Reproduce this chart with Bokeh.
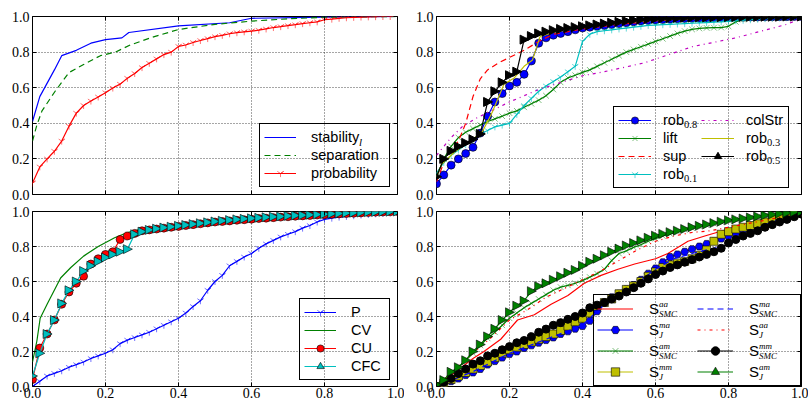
import numpy as np
from bokeh.plotting import figure
from bokeh.layouts import column, row
from bokeh.models import (Range1d, LinearAxis, FixedTicker, PrintfTickFormatter,
                          CustomJSTickFormatter, Legend, LegendItem)
from bokeh.embed import file_html
from bokeh.resources import INLINE

# ---------------- data ----------------
TICKS = [0.0, 0.2, 0.4, 0.6, 0.8, 1.0]
X = [0.00, 0.02, 0.04, 0.06, 0.08, 0.10, 0.12, 0.14, 0.16, 0.18,
     0.20, 0.22, 0.24, 0.26, 0.28, 0.30, 0.32, 0.34, 0.36, 0.38,
     0.40, 0.42, 0.44, 0.46, 0.48, 0.50, 0.52, 0.54, 0.56, 0.58,
     0.60, 0.62, 0.64, 0.66, 0.68, 0.70, 0.72, 0.74, 0.76, 0.78,
     0.80, 0.82, 0.84, 0.86, 0.88, 0.90, 0.92, 0.94, 0.96, 0.98, 1.00]

# panel 1
stab_x = [0, 0.02, 0.06, 0.08, 0.12, 0.16, 0.20, 0.245, 0.264, 0.40, 0.54, 0.60, 0.80, 1.0]
stab_y = [0.41, 0.55, 0.70, 0.78, 0.81, 0.85, 0.87, 0.88, 0.91, 0.947, 0.965, 0.99, 0.996, 1.0]
sep_x = [0, 0.012, 0.026, 0.062, 0.10, 0.14, 0.186, 0.227, 0.268, 0.323, 0.40, 0.50, 0.60, 0.70, 0.80, 1.0]
sep_y = [0.30, 0.39, 0.47, 0.58, 0.685, 0.73, 0.78, 0.80, 0.84, 0.88, 0.927, 0.956, 0.974, 0.987, 0.996, 1.0]
prob_y = [0.064, 0.155, 0.20, 0.243, 0.30, 0.384, 0.457, 0.50, 0.525, 0.548,
          0.572, 0.598, 0.62, 0.653, 0.68, 0.713, 0.737, 0.762, 0.786, 0.80,
          0.832, 0.84, 0.854, 0.865, 0.876, 0.887, 0.894, 0.903, 0.909, 0.914,
          0.918, 0.923, 0.93, 0.938, 0.943, 0.949, 0.954, 0.96, 0.965, 0.97,
          0.982, 0.985, 0.99, 0.993, 0.995, 0.997, 0.998, 0.999, 1.0, 1.0, 1.0]

# panel 2
rob08_y = [0.06, 0.11, 0.165, 0.20, 0.23, 0.265, 0.345, 0.44, 0.52, 0.567,
           0.61, 0.63, 0.675, 0.75, 0.85, 0.88, 0.895, 0.905, 0.915, 0.925,
           0.935, 0.94, 0.945, 0.95, 0.955, 0.96, 0.965, 0.97, 0.975, 0.978,
           0.98, 0.983, 0.985, 0.987, 0.989, 0.99, 0.991, 0.992, 0.993, 0.994,
           0.995, 0.996, 0.996, 0.997, 0.997, 0.998, 0.998, 0.999, 0.999, 1.0, 1.0]
lift_y = [0.10, 0.20, 0.27, 0.32, 0.35, 0.37, 0.39, 0.41, 0.425, 0.44,
          0.457, 0.47, 0.49, 0.51, 0.53, 0.555, 0.59, 0.63, 0.655, 0.67,
          0.686, 0.70, 0.72, 0.74, 0.76, 0.78, 0.80, 0.815, 0.83, 0.845,
          0.86, 0.875, 0.89, 0.905, 0.918, 0.928, 0.933, 0.936, 0.937, 0.938,
          0.945, 0.97, 0.983, 0.99, 0.994, 0.996, 0.997, 0.998, 0.999, 1.0, 1.0]
sup_x = [0, 0.02, 0.04, 0.06, 0.08, 0.10, 0.12, 0.14, 0.17, 0.20, 0.24, 0.28, 0.32, 0.40, 0.50, 0.60, 0.74, 1.0]
sup_y = [0.07, 0.18, 0.25, 0.30, 0.40, 0.55, 0.65, 0.70, 0.74, 0.77, 0.81, 0.86, 0.90, 0.93, 0.955, 0.975, 0.993, 1.0]
rob01_y = [0.12, 0.18, 0.22, 0.25, 0.28, 0.31, 0.34, 0.36, 0.38, 0.39,
           0.40, 0.45, 0.50, 0.54, 0.58, 0.61, 0.635, 0.66, 0.69, 0.72,
           0.86, 0.90, 0.915, 0.92, 0.925, 0.93, 0.935, 0.94, 0.945, 0.95,
           0.952, 0.954, 0.956, 0.958, 0.96, 0.962, 0.964, 0.966, 0.968, 0.97,
           0.973, 0.976, 0.979, 0.982, 0.985, 0.988, 0.991, 0.994, 0.996, 0.998, 1.0]
col_x = [0, 0.04, 0.07, 0.11, 0.20, 0.28, 0.40, 0.46, 0.57, 0.70, 0.82, 0.96, 1.0]
col_y = [0.22, 0.32, 0.38, 0.43, 0.52, 0.59, 0.667, 0.69, 0.74, 0.83, 0.88, 0.956, 0.99]
rob03_x = [0, 0.014, 0.05, 0.10, 0.126, 0.153, 0.185, 0.213, 0.24, 0.263, 0.284, 0.32, 0.40, 0.50, 0.60, 0.80, 1.0]
rob03_y = [0.10, 0.17, 0.24, 0.31, 0.354, 0.463, 0.62, 0.655, 0.72, 0.756, 0.888, 0.91, 0.94, 0.962, 0.98, 0.995, 1.0]
rob05_y = [0.10, 0.20, 0.245, 0.27, 0.29, 0.31, 0.34, 0.52, 0.58, 0.63,
           0.67, 0.69, 0.87, 0.89, 0.905, 0.915, 0.923, 0.93, 0.935, 0.94,
           0.945, 0.95, 0.955, 0.96, 0.965, 0.97, 0.975, 0.98, 0.983, 0.986,
           0.988, 0.99, 0.991, 0.992, 0.993, 0.994, 0.995, 0.995, 0.996, 0.996,
           0.997, 0.997, 0.998, 0.998, 0.998, 0.999, 0.999, 0.999, 1.0, 1.0, 1.0]

# panel 3
P_y = [0.0, 0.03, 0.06, 0.075, 0.09, 0.11, 0.125, 0.14, 0.16, 0.175,
       0.19, 0.21, 0.245, 0.265, 0.28, 0.295, 0.31, 0.33, 0.35, 0.37,
       0.39, 0.42, 0.457, 0.49, 0.55, 0.60, 0.635, 0.69, 0.715, 0.74,
       0.76, 0.79, 0.815, 0.835, 0.855, 0.87, 0.885, 0.905, 0.92, 0.94,
       0.955, 0.962, 0.968, 0.972, 0.976, 0.98, 0.983, 0.987, 0.99, 0.993, 0.996]
cv_x = [0, 0.012, 0.021, 0.04, 0.077, 0.105, 0.14, 0.18, 0.225, 0.26, 0.31, 0.40, 0.60, 0.80, 1.0]
cv_y = [0.14, 0.26, 0.39, 0.47, 0.62, 0.68, 0.745, 0.80, 0.85, 0.88, 0.905, 0.926, 0.969, 0.987, 1.0]
CU_y = [0.04, 0.22, 0.30, 0.38, 0.47, 0.54, 0.59, 0.63, 0.70, 0.73,
        0.755, 0.77, 0.84, 0.86, 0.875, 0.89, 0.895, 0.90, 0.905, 0.91,
        0.915, 0.92, 0.925, 0.93, 0.935, 0.94, 0.943, 0.946, 0.95, 0.953,
        0.956, 0.96, 0.962, 0.965, 0.968, 0.97, 0.973, 0.975, 0.977, 0.98,
        0.982, 0.984, 0.986, 0.988, 0.99, 0.992, 0.994, 0.996, 0.997, 0.998, 1.0]
CFC_y = [0.06, 0.19, 0.30, 0.38, 0.475, 0.55, 0.60, 0.66, 0.69, 0.715,
         0.737, 0.755, 0.77, 0.785, 0.87, 0.885, 0.895, 0.902, 0.908, 0.913,
         0.918, 0.923, 0.928, 0.933, 0.938, 0.943, 0.947, 0.951, 0.955, 0.958,
         0.961, 0.964, 0.967, 0.97, 0.972, 0.975, 0.977, 0.979, 0.981, 0.983,
         0.985, 0.987, 0.989, 0.991, 0.993, 0.994, 0.996, 0.997, 0.998, 0.999, 1.0]

# panel 4
aaSMC_x = [0, 0.05, 0.10, 0.13, 0.176, 0.222, 0.268, 0.314, 0.36, 0.405, 0.451, 0.497, 0.543, 0.60, 0.634, 0.689, 0.735, 0.80, 0.881, 1.0]
aaSMC_y = [0, 0.08, 0.16, 0.20, 0.27, 0.38, 0.41, 0.47, 0.52, 0.59, 0.635, 0.67, 0.70, 0.73, 0.76, 0.83, 0.86, 0.90, 0.935, 0.98]
maJ_y = [0.0, 0.015, 0.03, 0.045, 0.065, 0.08, 0.10, 0.125, 0.145, 0.165,
         0.185, 0.20, 0.22, 0.235, 0.25, 0.265, 0.28, 0.30, 0.315, 0.33,
         0.345, 0.375, 0.43, 0.48, 0.51, 0.53, 0.555, 0.58, 0.61, 0.645,
         0.675, 0.71, 0.74, 0.755, 0.77, 0.785, 0.80, 0.815, 0.83, 0.845,
         0.86, 0.875, 0.89, 0.905, 0.92, 0.935, 0.95, 0.965, 0.975, 0.985, 0.995]
amSMC_y = [0.01, 0.04, 0.075, 0.11, 0.15, 0.19, 0.235, 0.275, 0.31, 0.35,
           0.39, 0.42, 0.45, 0.475, 0.50, 0.525, 0.55, 0.568, 0.578, 0.59,
           0.605, 0.625, 0.645, 0.67, 0.72, 0.76, 0.775, 0.795, 0.81, 0.83,
           0.845, 0.86, 0.872, 0.884, 0.895, 0.905, 0.914, 0.922, 0.93, 0.94,
           0.95, 0.955, 0.96, 0.965, 0.97, 0.975, 0.98, 0.985, 0.99, 0.995, 1.0]
mmJ_y = [0.0, 0.02, 0.04, 0.06, 0.08, 0.10, 0.12, 0.14, 0.165, 0.19,
         0.21, 0.225, 0.24, 0.255, 0.27, 0.285, 0.30, 0.32, 0.345, 0.37,
         0.39, 0.42, 0.46, 0.48, 0.50, 0.53, 0.555, 0.575, 0.60, 0.63,
         0.655, 0.68, 0.695, 0.705, 0.715, 0.73, 0.75, 0.78, 0.83, 0.87,
         0.885, 0.90, 0.91, 0.92, 0.93, 0.94, 0.955, 0.965, 0.975, 0.985, 0.995]
maSMC_x = [0, 0.10, 0.20, 0.30, 0.40, 0.45, 0.50, 0.55, 0.60, 0.65, 0.70, 0.75, 0.80, 0.85, 0.90, 0.95, 1.0]
maSMC_y = [0, 0.085, 0.19, 0.27, 0.35, 0.45, 0.525, 0.59, 0.67, 0.73, 0.76, 0.785, 0.81, 0.87, 0.925, 0.96, 0.99]
aaJ_x = [0, 0.10, 0.15, 0.20, 0.25, 0.30, 0.35, 0.40, 0.45, 0.50, 0.55, 0.60, 0.65, 0.70, 0.75, 0.80, 0.85, 0.90, 0.95, 1.0]
aaJ_y = [0, 0.19, 0.28, 0.38, 0.44, 0.51, 0.56, 0.61, 0.66, 0.72, 0.78, 0.83, 0.86, 0.88, 0.89, 0.91, 0.93, 0.95, 0.97, 0.985]
mmSMC_y = [0.0, 0.025, 0.046, 0.074, 0.10, 0.128, 0.147, 0.175, 0.19, 0.21,
           0.228, 0.25, 0.263, 0.285, 0.31, 0.328, 0.35, 0.365, 0.384, 0.40,
           0.42, 0.45, 0.465, 0.48, 0.50, 0.517, 0.54, 0.565, 0.59, 0.615,
           0.64, 0.66, 0.68, 0.695, 0.71, 0.725, 0.74, 0.755, 0.77, 0.79,
           0.82, 0.84, 0.86, 0.875, 0.89, 0.91, 0.925, 0.94, 0.955, 0.97, 0.985]
amJ_y = [0.01, 0.037, 0.084, 0.11, 0.15, 0.20, 0.24, 0.286, 0.33, 0.38,
         0.424, 0.462, 0.49, 0.545, 0.573, 0.59, 0.61, 0.63, 0.65, 0.666,
         0.69, 0.713, 0.73, 0.75, 0.77, 0.788, 0.806, 0.82, 0.835, 0.85,
         0.862, 0.872, 0.882, 0.89, 0.90, 0.91, 0.918, 0.926, 0.934, 0.942,
         0.95, 0.955, 0.96, 0.966, 0.972, 0.978, 0.983, 0.988, 0.992, 0.996, 1.0]

# ---------------- style ----------------
BLUE, GREEN, RED = "#0000ff", "#008000", "#ff0000"
CYAN, MAGENTA, YELLOW, BLACK = "#00bfbf", "#bf00bf", "#bfbf00", "#000000"
LW = 1.2
LEG_FONT = "Liberation Sans"
SUB_FONT = "Liberation Serif"
FW = 365            # frame width in px (all panels)
FH_TOP = 178        # frame height, top row
FH_BOT = 175        # frame height, bottom row


def make_fig(w, h, bl, br, bt, bb, xlabels):
    p = figure(width=w, height=h, x_range=Range1d(0, 1), y_range=Range1d(0, 1),
               output_backend="svg", toolbar_location=None, tools="",
               min_border_left=bl, min_border_right=br,
               min_border_top=bt, min_border_bottom=bb)
    p.outline_line_color = "black"
    p.outline_line_alpha = 1.0
    p.outline_line_width = 1
    p.background_fill_color = "white"
    p.border_fill_color = "white"
    p.add_layout(LinearAxis(), "above")
    p.add_layout(LinearAxis(), "right")
    ticker = FixedTicker(ticks=TICKS)
    empty = CustomJSTickFormatter(code="return ''")
    for ax in p.axis:
        ax.ticker = ticker
        ax.major_tick_in = 4
        ax.major_tick_out = 0
        ax.major_tick_line_color = "black"
        ax.minor_tick_line_color = None
        ax.axis_line_color = None
        ax.major_label_text_font = "Liberation Serif"
        ax.major_label_text_font_size = "0px"
        ax.major_label_text_color = "black"
        ax.major_label_standoff = 0
        ax.formatter = empty
    p.left[0].formatter = PrintfTickFormatter(format="%.1f")
    p.left[0].major_label_standoff = 3
    p.left[0].major_label_text_font_size = "14px"
    if xlabels:
        p.below[0].formatter = PrintfTickFormatter(format="%.1f")
        p.below[0].major_label_standoff = 1
        p.below[0].major_label_text_font_size = "14px"
    for g in p.grid:
        g.ticker = ticker
        g.grid_line_color = "black"
        g.grid_line_alpha = 0.7
        g.grid_line_dash = "1 2"
        g.grid_line_width = 1
    return p


def make_legend(p, items, loc, pad, gw, gh, standoff, lw, ncols=1, font_size="14.5px"):
    leg = Legend(items=items, location=loc, padding=pad, spacing=0, margin=0,
                 glyph_width=gw, glyph_height=gh, label_height=gh, label_width=lw,
                 label_standoff=standoff, label_text_font=LEG_FONT,
                 label_text_font_size=font_size, label_text_color="black",
                 border_line_color="black", border_line_width=1, border_line_alpha=1,
                 background_fill_alpha=0.0, inactive_fill_alpha=0.0,
                 ncols=ncols)
    p.add_layout(leg)
    return leg


def script(p, px, py, text, italic=True, size="11px"):
    # sub/superscript text whose left-middle sits px, py pixels from the frame's lower-left corner
    h = 16
    leg = Legend(items=[LegendItem(label=text, renderers=[])], location=(px, py - h / 2),
                 padding=0, spacing=0, margin=0, glyph_width=0, glyph_height=h,
                 label_height=h, label_width=0, label_standoff=0,
                 label_text_font=SUB_FONT, label_text_font_style="italic" if italic else "normal",
                 label_text_font_size=size, label_text_color="black",
                 border_line_color=None, background_fill_alpha=0.0, inactive_fill_alpha=0.0)
    p.add_layout(leg)


def tri(p, x, y, fh, fill, edge, lw=0.6):
    # right-pointing triangle markers, plus a legend-only marker renderer
    xs = [[xi + 5.0 / FW, xi - 4.0 / FW, xi - 4.0 / FW] for xi in x]
    ys = [[yi, yi + 4.5 / fh, yi - 4.5 / fh] for yi in y]
    p.patches(xs, ys, fill_color=fill, line_color=edge, line_width=lw)
    return p.scatter(x[:1], y[:1], marker="triangle", size=9, fill_color=fill,
                     line_color=edge, line_width=lw, visible=False)


# ---------------- panel 1 ----------------
p1 = make_fig(404, 203, 32, 7, 16, 9, False)
r_stab = p1.line(stab_x, stab_y, line_color=BLUE, line_width=LW)
r_sep = p1.line(sep_x, sep_y, line_color=GREEN, line_width=LW, line_dash="6 4")
r_prob = p1.line(X, prob_y, line_color=RED, line_width=LW)
r_prob_m = p1.scatter(X, prob_y, marker="y", size=7, line_color=RED, line_alpha=0.55, line_width=1)
make_legend(p1, [LegendItem(label="stability", renderers=[r_stab]),
                 LegendItem(label="separation", renderers=[r_sep]),
                 LegendItem(label="probability", renderers=[r_prob, r_prob_m])],
            (227, 7), 4, 32, 18, 15, 74)
script(p1, 327, 52, "l")

# ---------------- panel 2 ----------------
p2 = make_fig(404, 203, 32, 7, 16, 9, False)
r08 = p2.line(X, rob08_y, line_color=BLUE, line_width=LW)
r08m = p2.scatter(X, rob08_y, marker="circle", size=8, fill_color=BLUE, line_color="black", line_width=0.6)
rlift = p2.line(X, lift_y, line_color=GREEN, line_width=LW)
rliftm = p2.scatter(X, lift_y, marker="x", size=8, line_color=GREEN, line_alpha=0.5, line_width=1)
rsup = p2.line(sup_x, sup_y, line_color=RED, line_width=LW, line_dash="6 4")
r01 = p2.line(X, rob01_y, line_color=CYAN, line_width=LW)
r01m = p2.scatter(X, rob01_y, marker="y", size=7, line_color=CYAN, line_alpha=0.6, line_width=1)
rcol = p2.line(col_x, col_y, line_color=MAGENTA, line_width=LW, line_dash="3 4 1 4")
r03 = p2.line(rob03_x, rob03_y, line_color=YELLOW, line_width=LW)
r05 = p2.line(X, rob05_y, line_color=BLACK, line_width=LW)
r05m = tri(p2, X, rob05_y, FH_TOP, BLACK, BLACK, 1)
make_legend(p2, [LegendItem(label="rob", renderers=[r08, r08m]),
                 LegendItem(label="lift", renderers=[rlift, rliftm]),
                 LegendItem(label="sup", renderers=[rsup]),
                 LegendItem(label="rob", renderers=[r01, r01m]),
                 LegendItem(label="colStr", renderers=[rcol]),
                 LegendItem(label="rob", renderers=[r03]),
                 LegendItem(label="rob", renderers=[r05, r05m])],
            (177, 6), 4, 33, 18, 12, 38, ncols=2)
for (sx, row_i, txt) in [(248, 0, "0.8"), (248, 3, "0.1"), (331, 1, "0.3"), (331, 2, "0.5")]:
    script(p2, sx, 73 - 18 * row_i - 3.5, txt, italic=False, size="10.5px")

# ---------------- panel 3 ----------------
p3 = make_fig(404, 201, 32, 7, 8, 18, True)
rP = p3.line(X, P_y, line_color=BLUE, line_width=LW)
rPm = p3.scatter(X, P_y, marker="y", size=7, line_color=BLUE, line_alpha=0.55, line_width=1)
rCV = p3.line(cv_x, cv_y, line_color=GREEN, line_width=LW)
rCU = p3.line(X, CU_y, line_color=RED, line_width=LW)
rCUm = p3.scatter(X, CU_y, marker="circle", size=8, fill_color=RED, line_color="black", line_width=0.6)
rCFC = p3.line(X, CFC_y, line_color=CYAN, line_width=LW)
rCFCm = tri(p3, X, CFC_y, FH_BOT, CYAN, "black")
make_legend(p3, [LegendItem(label="P", renderers=[rP, rPm]),
                 LegendItem(label="CV", renderers=[rCV]),
                 LegendItem(label="CU", renderers=[rCU, rCUm]),
                 LegendItem(label="CFC", renderers=[rCFC, rCFCm])],
            (267, 6), 4, 32, 18, 15, 34)

# ---------------- panel 4 ----------------
p4 = make_fig(404, 201, 32, 7, 8, 18, True)
a1 = p4.line(aaSMC_x, aaSMC_y, line_color=RED, line_width=LW)
a2 = p4.line(X, maJ_y, line_color=BLUE, line_width=LW)
a2m = p4.scatter(X, maJ_y, marker="hex", size=8, fill_color=BLUE, line_color="black", line_width=0.6)
a3 = p4.line(X, amSMC_y, line_color=GREEN, line_width=LW)
a3m = p4.scatter(X, amSMC_y, marker="x", size=8, line_color=GREEN, line_alpha=0.5, line_width=1)
a4 = p4.line(X, mmJ_y, line_color=YELLOW, line_width=LW)
a4m = p4.scatter(X, mmJ_y, marker="square", size=8, fill_color=YELLOW, line_color="black", line_width=0.6)
a5 = p4.line(maSMC_x, maSMC_y, line_color=BLUE, line_width=LW, line_dash="6 4")
a6 = p4.line(aaJ_x, aaJ_y, line_color=RED, line_width=LW, line_dash="3 4 1 4")
a7 = p4.line(X, mmSMC_y, line_color=BLACK, line_width=LW)
a7m = p4.scatter(X, mmSMC_y, marker="circle", size=8, fill_color=BLACK, line_color="black")
a8 = p4.line(X, amJ_y, line_color=GREEN, line_width=LW)
a8m = tri(p4, X, amJ_y, FH_BOT, GREEN, "black")
ROW4 = 21
make_legend(p4, [LegendItem(label="S", renderers=[a1]),
                 LegendItem(label="S", renderers=[a2, a2m]),
                 LegendItem(label="S", renderers=[a3, a3m]),
                 LegendItem(label="S", renderers=[a4, a4m]),
                 LegendItem(label="S", renderers=[a5]),
                 LegendItem(label="S", renderers=[a6]),
                 LegendItem(label="S", renderers=[a7, a7m]),
                 LegendItem(label="S", renderers=[a8, a8m])],
            (157, 0), 3, 36, ROW4, 16, 48, ncols=2, font_size="15px")
sups = [("aa", "SMC"), ("ma", "J"), ("am", "SMC"), ("mm", "J"),
        ("ma", "SMC"), ("aa", "J"), ("mm", "SMC"), ("am", "J")]
for i, (sp, sb) in enumerate(sups):
    col, rw = divmod(i, 4)
    tx = 212 + col * 100 + 11
    cy = (4 * ROW4 + 3) - ROW4 / 2 - rw * ROW4
    script(p4, tx, cy + 6, sp, size="9px")
    script(p4, tx, cy - 4.5, sb, size="9px")

layout = column(row(p1, p2), row(p3, p4))
open("out.html", "w").write(file_html(layout, INLINE))
